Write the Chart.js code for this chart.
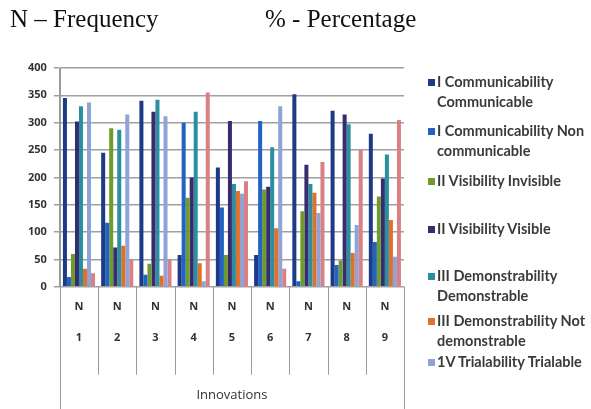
<!DOCTYPE html>
<html>
<head>
<meta charset="utf-8">
<script src="https://cdn.jsdelivr.net/npm/chart.js@4"></script>
<style>
  html, body { margin: 0; padding: 0; background: #fff; }
  #wrap { position: relative; width: 591px; height: 409px; overflow: hidden; }
  #chart { position: absolute; left: 0; top: 0; }
  .head { position: absolute; top: 5px; font-family: "Liberation Serif", serif; font-size: 25px; color: #111; }
  #legend { position: absolute; left: 0; top: 0; font-family: Lato, sans-serif; font-size: 14.5px; font-weight: bold; color: #3a3a3a; }
  .item { position: absolute; left: 428px; width: 200px; line-height: 20px; white-space: nowrap; }
  .sw { display: inline-block; width: 7px; height: 7px; margin-right: 2px; vertical-align: 1px; }
  .item .l2 { padding-left: 9px; }
</style>
</head>
<body>
<div id="wrap">
  <canvas id="chart" width="591" height="409"></canvas>
  <div class="head" style="left:10px">N – Frequency</div>
  <div class="head" style="left:265px">% - Percentage</div>
  <div id="legend"></div>
</div>
<script>
/* DATA */
const categories = ["1", "2", "3", "4", "5", "6", "7", "8", "9"];
const rowLabel = "N";
const yTicks = [0, 50, 100, 150, 200, 250, 300, 350, 400];

const seriesNames = [
  ["I Communicability", "Communicable"],
  ["I Communicability  Non", "communicable"],
  ["II Visibility  Invisible"],
  ["II Visibility Visible"],
  ["III Demonstrability", "Demonstrable"],
  ["III Demonstrability Not", "demonstrable"],
  ["1V Trialability Trialable"],
  ["1V Trialability Not trialable"]
];

const commCommunicable    = [345, 245, 340,  58, 218,  58, 352, 322, 280];
const commNonCommunicable = [ 18, 117,  22, 300, 145, 303,  10,  40,  82];
const visInvisible        = [ 60, 290,  42, 163,  58, 178, 138,  48, 165];
const visVisible          = [302,  72, 320, 200, 303, 183, 223, 315, 198];
const demDemonstrable     = [330, 287, 342, 320, 188, 255, 188, 297, 242];
const demNotDemonstrable  = [ 33,  75,  20,  43, 175, 107, 172,  62, 122];
const trialTrialable      = [337, 315, 312,  10, 170, 330, 135, 113,  55];
const trialNotTrialable   = [ 25,  50,  50, 355, 193,  33, 228, 250, 305];

const seriesValues = [
  commCommunicable, commNonCommunicable, visInvisible, visVisible,
  demDemonstrable, demNotDemonstrable, trialTrialable, trialNotTrialable
];

/* STYLE */
const colors = ["#1c3a86", "#2262c2", "#6f9a2e", "#372c6e", "#2a8fa0", "#e0702a", "#8fa3d6", "#d98084"];
const legendTops = [72, 121, 171, 219, 266, 311, 352];

/* DIVIDERS UNDER THE AXIS */
const dividers = {
  id: "dividers",
  afterDraw(chart) {
    const ctx = chart.ctx;
    const x = chart.scales.x;
    const area = chart.chartArea;
    ctx.save();
    ctx.strokeStyle = "#9a9a9a";
    ctx.lineWidth = 1;
    ctx.beginPath();
    for (let i = 1; i < categories.length; i++) {
      const px = Math.round((x.getPixelForValue(i - 1) + x.getPixelForValue(i)) / 2) + 0.5;
      ctx.moveTo(px, area.bottom);
      ctx.lineTo(px, area.bottom + 88);
    }
    ctx.moveTo(Math.round(area.left) + 0.5, area.top);
    ctx.lineTo(Math.round(area.left) + 0.5, chart.height);
    ctx.moveTo(Math.round(area.right) + 0.5, area.bottom);
    ctx.lineTo(Math.round(area.right) + 0.5, chart.height);
    ctx.stroke();
    ctx.restore();
  }
};

new Chart(document.getElementById("chart"), {
  type: "bar",
  data: {
    labels: categories.map(c => [rowLabel, c]),
    datasets: seriesValues.map((vals, i) => ({
      label: seriesNames[i].join(" "),
      data: vals,
      backgroundColor: colors[i],
      barPercentage: 1,
      categoryPercentage: 0.84
    }))
  },
  options: {
    responsive: false,
    animation: false,
    layout: { padding: { left: 21, right: 187, top: 68, bottom: 6 } },
    plugins: { legend: { display: false }, tooltip: { enabled: false } },
    scales: {
      x: {
        grid: { display: false, drawTicks: false },
        border: { display: false },
        ticks: {
          color: "#333",
          padding: 5,
          maxRotation: 0,
          font: { family: "Open Sans", size: 11, weight: "bold", lineHeight: 2.8 }
        },
        title: {
          display: true,
          text: "Innovations",
          color: "#333",
          padding: { top: 29, bottom: 0 },
          font: { family: "Open Sans", size: 13 }
        }
      },
      y: {
        min: 0,
        max: 400,
        afterBuildTicks(scale) { scale.ticks = yTicks.map(v => ({ value: v })); },
        grid: { color: "#a0a0a0", lineWidth: 1.5, tickLength: 6 },
        border: { display: true, color: "#9a9a9a", width: 1 },
        ticks: {
          color: "#333",
          padding: 7,
          font: { family: "Open Sans", size: 11, weight: "bold" }
        }
      }
    }
  },
  plugins: [dividers]
});

/* LEGEND */
const legend = document.getElementById("legend");
seriesNames.slice(0, legendTops.length).forEach((lines, i) => {
  const item = document.createElement("div");
  item.className = "item";
  item.style.top = legendTops[i] + "px";
  item.innerHTML = `<div><span class="sw" style="background:${colors[i]}"></span>${lines[0]}</div>` +
    (lines[1] ? `<div class="l2">${lines[1]}</div>` : "");
  legend.appendChild(item);
});
</script>
</body>
</html>
